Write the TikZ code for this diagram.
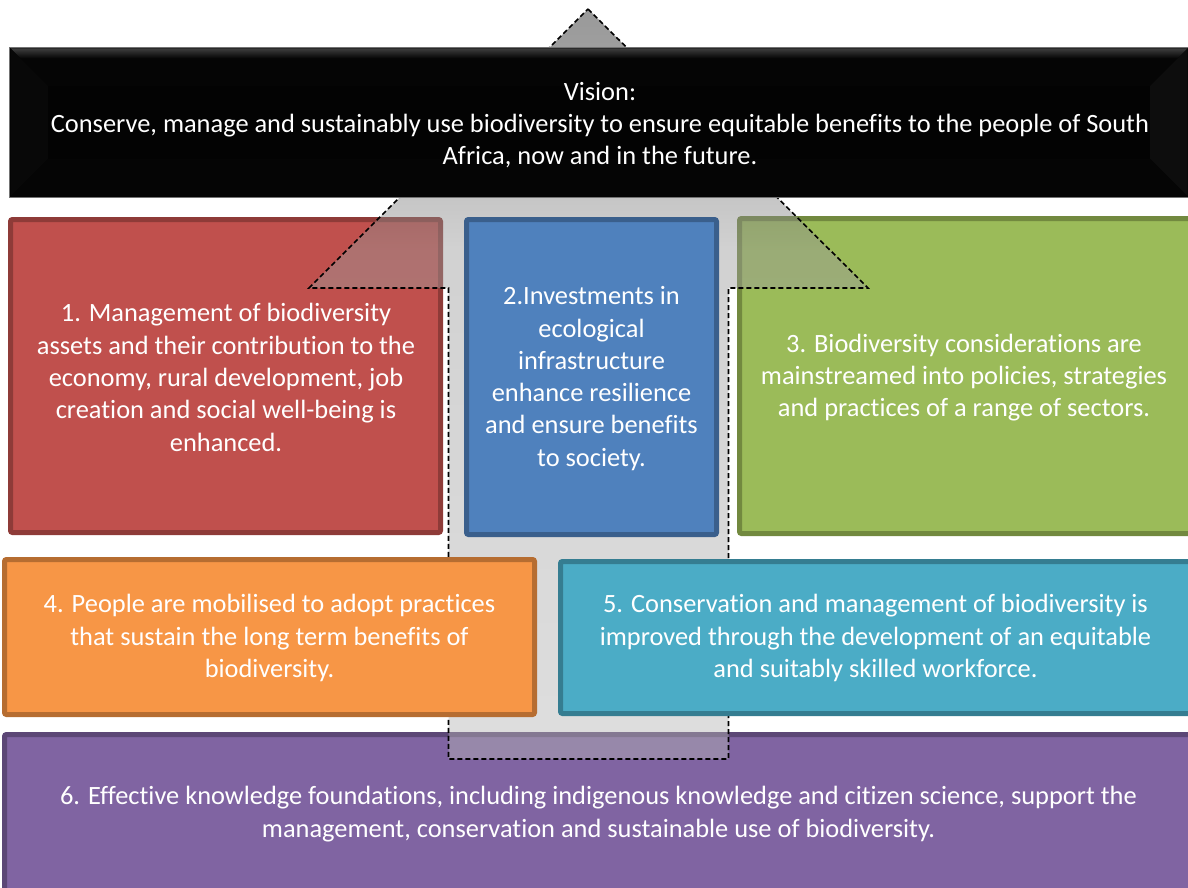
\documentclass[tikz,border=0pt]{standalone}
\usepackage{fontspec}
\setmainfont{Carlito}[Ligatures=NoCommon]
\usetikzlibrary{calc}

% box fills and borders
\definecolor{redfill}{HTML}{C0504D}\definecolor{redline}{HTML}{8E3B38}
\definecolor{bluefill}{HTML}{4F81BD}\definecolor{blueline}{HTML}{3A5F8C}
\definecolor{greenfill}{HTML}{9BBB59}\definecolor{greenline}{HTML}{72893F}
\definecolor{orangefill}{HTML}{F79646}\definecolor{orangeline}{HTML}{B66D31}
\definecolor{tealfill}{HTML}{4BACC6}\definecolor{tealline}{HTML}{357D91}
\definecolor{purplefill}{HTML}{8064A2}\definecolor{purpleline}{HTML}{5C4776}
% grey ramp of the big arrow (bottom to top)
\definecolor{ag1}{HTML}{B6B6B6}
\definecolor{ag2}{HTML}{9A9A9A}
\definecolor{ag3}{HTML}{858585}
\definecolor{ag4}{HTML}{282828}
\definecolor{ag5}{HTML}{1E1E1E}
\pgfdeclareverticalshading{arrowgrey}{100bp}{color(0bp)=(ag1); color(25bp)=(ag1); color(58.9bp)=(ag2); color(61.8bp)=(ag3); color(72.4bp)=(ag4); color(75bp)=(ag5); color(100bp)=(ag5)}
% soft top highlight of the vision banner
\definecolor{bv1}{HTML}{050505}
\definecolor{bv2}{HTML}{3C3C3C}
\pgfdeclareverticalshading{bevelgrey}{100bp}{color(0bp)=(bv1); color(25bp)=(bv1); color(62bp)=(bv1); color(75bp)=(bv2); color(100bp)=(bv2)}

\begin{document}
\begin{tikzpicture}[x=1pt,y=-1pt,
  goalbox/.style={draw, line width=5pt, rounded corners=2pt, inner sep=0pt},
  txt/.style={text=white, align=center, inner sep=0pt,
    font=\fontsize{26.4pt}{32.3pt}\selectfont},
  arrowedge/.style={draw=black, line width=1.6pt, dash pattern=on 5pt off 3pt}]
\useasboundingbox (0,0) rectangle (1188,888);

% lower layer: boxes 6, 1 and 3
\node[goalbox, draw=purpleline, fill=purplefill, minimum width=1193pt, minimum height=163pt] (b6) at (601,816) {};
\node[goalbox, draw=redline, fill=redfill, minimum width=430pt, minimum height=313pt] (b1) at (225.5,376) {};
\node[goalbox, draw=greenline, fill=greenfill, minimum width=458pt, minimum height=315pt] (b3) at (968.5,376) {};

\node[txt] (t1) at (226,377.5) {1. Management of biodiversity\\assets and their contribution to the\\economy, rural development, job\\creation and social well-being is\\enhanced.};
\node[txt] (t3) at (964,377.5) {3. Biodiversity considerations are\\mainstreamed into policies, strategies\\and practices of a range of sectors.};
\node[txt] (t6) at (598.5,814) {6. Effective knowledge foundations, including indigenous knowledge and citizen science, support the\\management, conservation and sustainable use of biodiversity.};

% the upward arrow
\coordinate (tip) at (588,9);
\coordinate (hr) at (868,288);
\coordinate (sr) at (728.5,288);
\coordinate (br) at (728.5,759);
\coordinate (bl) at (448.5,759);
\coordinate (sl) at (448.5,288);
\coordinate (hl) at (309,288);
\shade[shading=arrowgrey, fill opacity=0.45] (tip) -- (hr) -- (sr) -- (br) -- (bl) -- (sl) -- (hl) -- cycle;
\draw[arrowedge] (tip) -- (hr) -- (sr) -- (br) -- (bl) -- (sl) -- (hl) -- cycle;

% upper layer: boxes 2, 4 and 5
\node[goalbox, draw=blueline, fill=bluefill, minimum width=250pt, minimum height=315pt] (b2) at (591.5,377) {};
\node[goalbox, draw=orangeline, fill=orangefill, minimum width=530pt, minimum height=155pt] (b4) at (269.5,637) {};
\node[goalbox, draw=tealline, fill=tealfill, minimum width=637pt, minimum height=152pt] (b5) at (879,637.5) {};

\node[txt] (t2) at (591.5,378.5) {2.Investments in\\ecological\\infrastructure\\enhance resilience\\and ensure benefits\\to society.};
\node[txt] (t4) at (269.5,638) {4. People are mobilised to adopt practices\\that sustain the long term benefits of\\biodiversity.};
\node[txt] (t5) at (875.5,638) {5. Conservation and management of biodiversity is\\improved through the development of an equitable\\and suitably skilled workforce.};

% vision banner with soft bevelled edges
\node[fill=black!99, inner sep=0pt, minimum width=1178pt, minimum height=149pt] (v) at (599,122.5) {};
\shade[shading=bevelgrey] (10.5,48.5) -- (1187.5,48.5) -- (1150,86) -- (48,86) -- cycle;
\fill[black!97] (10.5,48.5) -- (48,86) -- (48,159) -- (10.5,196.5) -- cycle;
\fill[black!95] (1187.5,48.5) -- (1150,86) -- (1150,159) -- (1187.5,196.5) -- cycle;
\fill[black!98] (10.5,196.5) -- (48,159) -- (1150,159) -- (1187.5,196.5) -- cycle;
\draw[black!55, line width=1pt] (v.north west) rectangle (v.south east);
\node[txt] (vt) at (600,125) {Vision:\\Conserve, manage and sustainably use biodiversity to ensure equitable benefits to the people of South\\Africa, now and in the future.};
\end{tikzpicture}
\end{document}
